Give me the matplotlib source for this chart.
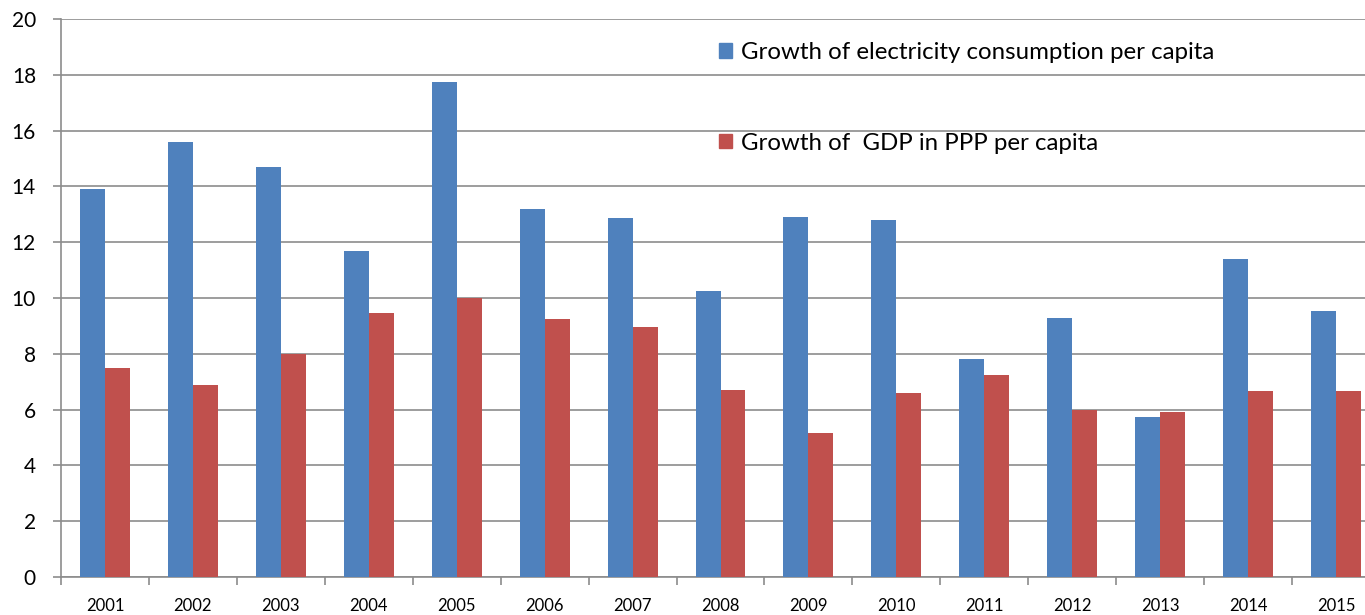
import numpy as np
import matplotlib.pyplot as plt
from matplotlib.patches import Patch

plt.rcParams['font.family'] = ['Lato', 'DejaVu Sans']

years = ['2001', '2002', '2003', '2004', '2005', '2006', '2007', '2008',
         '2009', '2010', '2011', '2012', '2013', '2014', '2015']
electricity = [13.9, 15.6, 14.7, 11.7, 17.75, 13.2, 12.85, 10.25,
               12.9, 12.8, 7.8, 9.3, 5.75, 11.4, 9.55]
gdp = [7.5, 6.87, 8.0, 9.45, 10.0, 9.25, 8.95, 6.7,
       5.15, 6.6, 7.25, 6.0, 5.9, 6.65, 6.65]

blue = '#4F81BD'
red = '#C0504D'
grid_col = '#8C8C8C'

fig = plt.figure(figsize=(13.65, 6.15), dpi=100)
ax = fig.add_axes([61 / 1365, 38 / 615, 1319 / 1365, 558 / 615])

x = np.arange(len(years))
w = 0.284
ax.bar(x - w / 2, electricity, width=w, color=blue, zorder=3)
ax.bar(x + w / 2, gdp, width=w, color=red, zorder=3)

ax.set_xlim(-0.5, len(years) - 0.5)
ax.set_ylim(0, 20)
ax.set_yticks(range(0, 21, 2))
ax.yaxis.grid(True, color=grid_col, linewidth=1.2, zorder=0)

ax.set_xticks(x)
ax.set_xticklabels(years, fontsize=12)
ax.set_xticks(np.arange(len(years) + 1) - 0.5, minor=True)
ax.tick_params(axis='x', which='major', length=0, pad=15)
ax.tick_params(axis='x', which='minor', length=6, width=1.2, color=grid_col, direction='out')
ax.tick_params(axis='y', length=6, width=1.2, color=grid_col, labelsize=15, pad=12)

for s in ['top', 'right']:
    ax.spines[s].set_visible(False)
for s in ['left', 'bottom']:
    ax.spines[s].set_color(grid_col)
    ax.spines[s].set_linewidth(1.2)

handles = [Patch(color=blue), Patch(color=red)]
labels = ['Growth of electricity consumption per capita',
          'Growth of  GDP in PPP per capita']
fig.legend(handles, labels, loc='upper left', bbox_to_anchor=(707 / 1365, 1 - 30 / 615),
           frameon=False, fontsize=17.3, handlelength=0.55, handleheight=0.55,
           handletextpad=0.35, labelspacing=2.9, borderpad=0)

plt.savefig('out.png', dpi=100)
